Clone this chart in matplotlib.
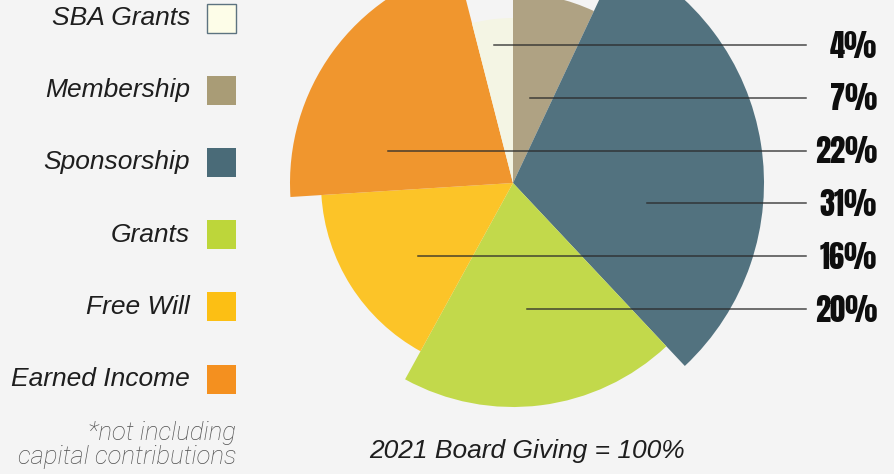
import matplotlib
matplotlib.use("Agg")
import matplotlib.pyplot as plt
from matplotlib.patches import Wedge, Rectangle

# data
categories = ["SBA Grants", "Membership", "Sponsorship", "Grants", "Free Will", "Earned Income"]
shares = [4, 7, 31, 20, 16, 22]
# clockwise from 12 o'clock
pie_order = ["Membership", "Sponsorship", "Grants", "Free Will", "Earned Income", "SBA Grants"]
# order of the % labels on the right, top to bottom
label_order = ["SBA Grants", "Membership", "Earned Income", "Sponsorship", "Free Will", "Grants"]
footnote = "*not including\ncapital contributions"
caption = "2021 Board Giving = 100%"

# style
legend_colors = ["#fdfde8", "#a99c76", "#4a6b78", "#bdd63a", "#fcbf14", "#f4901f"]
wedge_colors = ["#f4f5e4", "#afa283", "#52727f", "#c2d94b", "#fcc428", "#f0962e"]
radii = [165, 190, 251, 224, 192, 223]
line_start_x = [494, 530, 388, 647, 418, 527]

W, H = 894, 474
cx, cy = 513, H - 183

fig = plt.figure(figsize=(W / 100, H / 100), dpi=100)
fig.patch.set_facecolor("#f4f4f4")
ax = fig.add_axes([0, 0, 1, 1])
ax.set_xlim(0, W)
ax.set_ylim(0, H)
ax.set_aspect("equal")
ax.axis("off")

# pie with a different radius per slice
start = 90.0
for name in pie_order:
    i = categories.index(name)
    span = shares[i] / sum(shares) * 360.0
    ax.add_patch(Wedge((cx, cy), radii[i], start - span, start,
                       facecolor=wedge_colors[i], edgecolor="none", zorder=2))
    start -= span

# leader lines + percentages
for k, name in enumerate(label_order):
    i = categories.index(name)
    y = H - (45 + k * 52.8)
    ax.plot([line_start_x[k], 806], [y, y], color="#2b2b2b", lw=1.1, alpha=0.85, zorder=3)
    ax.text(877, y - 1, "{}%".format(shares[i]), ha="right", va="center",
            family=["Anton", "DejaVu Sans"], fontsize=22, color="#0e0e0e", zorder=4)

# legend
for k, name in enumerate(categories):
    i = categories.index(name)
    y = H - (18 + k * 72.2)
    ax.add_patch(Rectangle((207, y - 14.5), 29, 29, facecolor=legend_colors[i],
                           edgecolor="#5c7380" if name == "SBA Grants" else "none",
                           lw=1.0, zorder=3))
    ax.text(190, y, name, ha="right", va="center", family="Liberation Sans",
            style="italic", fontsize=19, color="#1e1e1e")

ax.text(236, H - 445, footnote, ha="right", va="center", family=["Roboto", "Liberation Sans"],
        style="italic", fontweight="light", fontsize=18.5, color="#505050", linespacing=1.0)

ax.text(527, H - 451, caption, ha="center", va="center", family="Liberation Sans",
        style="italic", fontsize=19, color="#1e1e1e")

fig.savefig("out.png", dpi=100, facecolor=fig.get_facecolor())
